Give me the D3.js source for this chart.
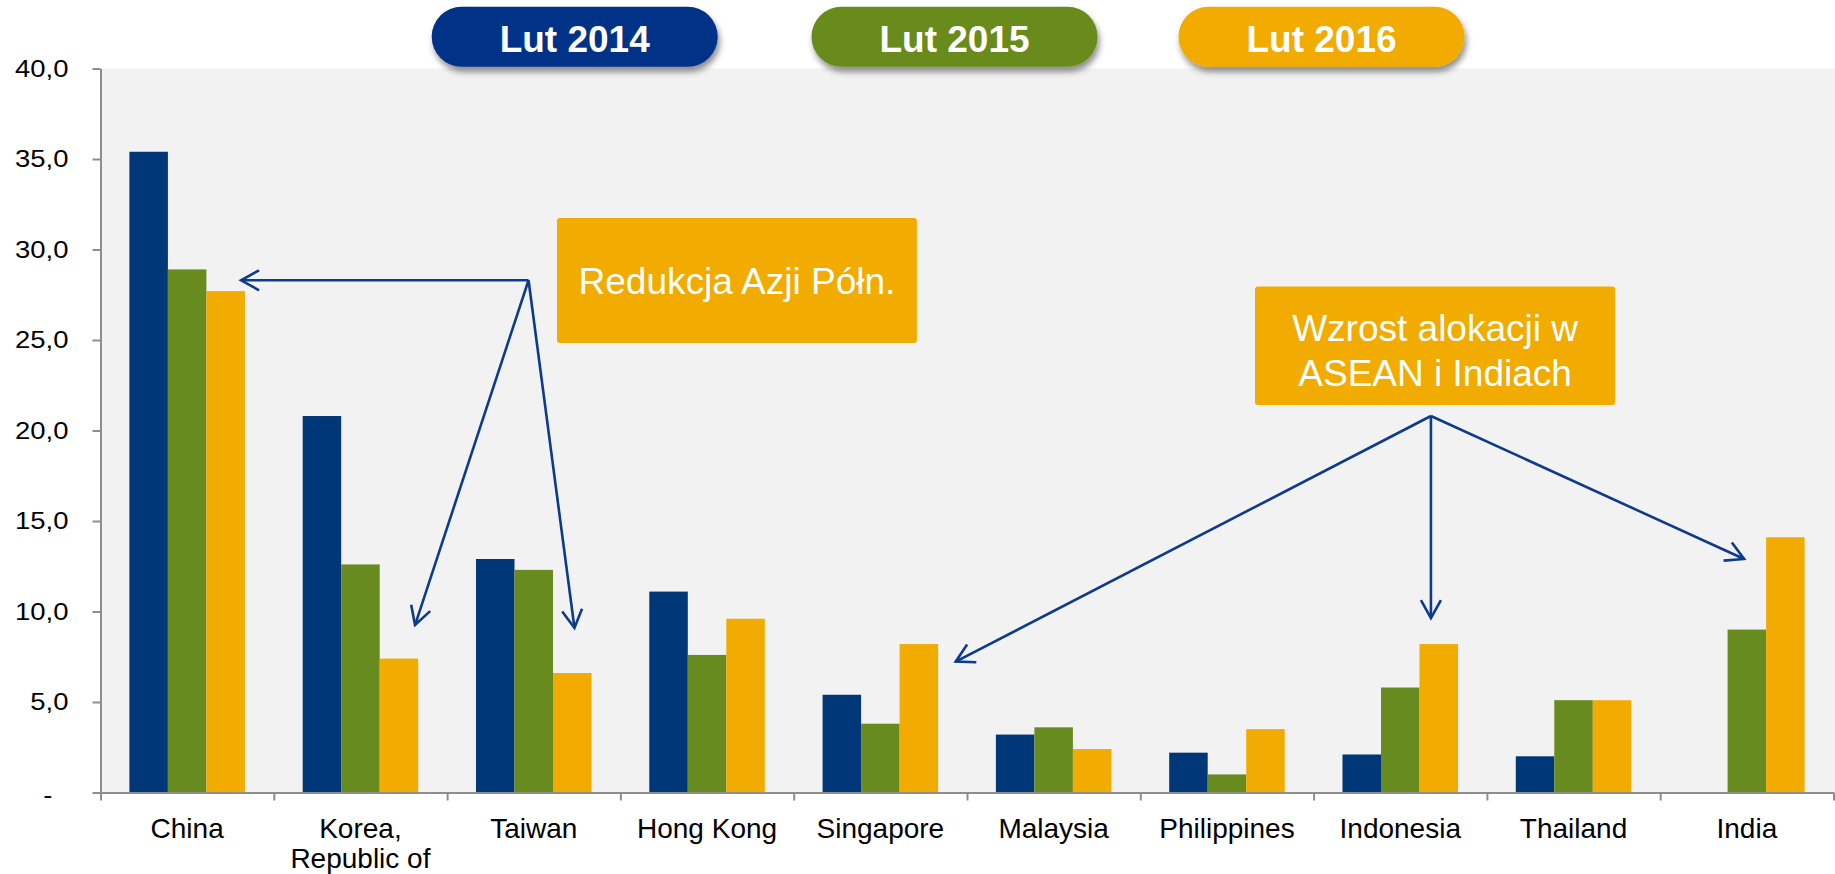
<!DOCTYPE html>
<html>
<head>
<meta charset="utf-8">
<script src="https://cdn.jsdelivr.net/npm/d3@7/dist/d3.min.js"></script>
<style>
  html, body { margin: 0; padding: 0; background: #ffffff; }
  svg { display: block; font-family: "Liberation Sans", Arial, sans-serif; }
</style>
</head>
<body>
<svg id="chart" width="1835" height="874"></svg>
<script>
// ---------- DATA ----------
const categories = ["China", "Korea, Republic of", "Taiwan", "Hong Kong", "Singapore",
                    "Malaysia", "Philippines", "Indonesia", "Thailand", "India"];
const seriesNames = ["Lut 2014", "Lut 2015", "Lut 2016"];
const valuesFeb2014 = [35.4, 20.8, 12.9, 11.1, 5.4, 3.2, 2.2, 2.1, 2.0, null];
const valuesFeb2015 = [28.9, 12.6, 12.3, 7.6, 3.8, 3.6, 1.0, 5.8, 5.1, 9.0];
const valuesFeb2016 = [27.7, 7.4, 6.6, 9.6, 8.2, 2.4, 3.5, 8.2, 5.1, 14.1];
const yTickValues = [0, 5, 10, 15, 20, 25, 30, 35, 40];

// annotations: box texts and arrow anchors in data space [category index position, value]
const noteNorthText = ["Redukcja Azji Półn."];
const noteNorthBox = { x0: 2.634, x1: 4.711, v0: 31.74, v1: 24.83 };
const noteNorthOrigin = [2.47, 28.3];
const noteNorthTargets = [[0.811, 28.3], [1.815, 9.25], [2.735, 9.09]];

const noteAseanText = ["Wzrost alokacji w", "ASEAN i Indiach"];
const noteAseanBox = { x0: 6.662, x1: 8.740, v0: 27.96, v1: 21.41 };
const noteAseanOrigin = [7.677, 20.8];
const noteAseanTargets = [[4.935, 7.23], [7.677, 9.64], [9.484, 12.9]];

// ---------- STYLE / LAYOUT ----------
const W = 1835, H = 874;
const plot = { left: 100.5, right: 1833.5, top: 68.5, bottom: 792.5 };
const seriesColors = ["#003778", "#678b1f", "#f2ab00"];
const pillColors = ["#023087", "#678b1f", "#f2ab00"];
const arrowColor = "#0d3b8a";
const axisColor = "#8e8e8e";

const svg = d3.select("#chart");

// defs
const defs = svg.append("defs");
const shadow = defs.append("filter").attr("id", "pillShadow")
  .attr("x", "-20%").attr("y", "-30%").attr("width", "140%").attr("height", "170%");
shadow.append("feDropShadow").attr("dx", 2).attr("dy", 5).attr("stdDeviation", 3)
  .attr("flood-color", "#000").attr("flood-opacity", 0.45);

defs.append("marker").attr("id", "openArrow")
  .attr("viewBox", "-22 -13 26 26").attr("refX", 0).attr("refY", 0)
  .attr("markerUnits", "userSpaceOnUse").attr("markerWidth", 26).attr("markerHeight", 26)
  .attr("orient", "auto")
  .append("path").attr("d", "M-18,-10 L0,0 L-18,10")
  .attr("fill", "none").attr("stroke", arrowColor).attr("stroke-width", 2.6)
  .attr("stroke-linejoin", "miter");

// scales
const x = d3.scaleBand().domain(categories).range([plot.left, plot.right]).padding(0);
const xIdx = d3.scaleLinear().domain([0, categories.length]).range([plot.left, plot.right]);
const bw = x.bandwidth();
const xs = d3.scaleBand().domain(seriesNames).range([bw * 0.75 / 4.5 * 2, bw - bw * 0.75 / 4.5 * 2]).padding(0);
// group occupies 3 bar widths, gap 1.5 bar widths (Excel gap width 150%)
xs.range([bw * 0.75 / 4.5, bw - bw * 0.75 / 4.5]);
const y = d3.scaleLinear().domain([0, 40]).range([plot.bottom, plot.top]);

// plot background
svg.append("rect")
  .attr("x", plot.left).attr("y", plot.top)
  .attr("width", W - plot.left).attr("height", plot.bottom - plot.top)
  .attr("fill", "#f2f2f2");

// bars
const seriesValues = [valuesFeb2014, valuesFeb2015, valuesFeb2016];
const barData = [];
categories.forEach((c, i) => {
  seriesNames.forEach((s, j) => {
    const v = seriesValues[j][i];
    if (v !== null && v > 0) barData.push({ c, s, v, j });
  });
});
svg.append("g").selectAll("rect").data(barData).join("rect")
  .attr("x", d => x(d.c) + xs(d.s))
  .attr("width", xs.bandwidth())
  .attr("y", d => y(d.v))
  .attr("height", d => y(0) - y(d.v))
  .attr("fill", d => seriesColors[d.j]);

// y axis
const yAxis = d3.axisLeft(y).tickValues(yTickValues)
  .tickFormat(d => d === 0 ? "-" : d.toFixed(1).replace(".", ","))
  .tickSize(8).tickSizeOuter(0).tickPadding(24);
const gy = svg.append("g").attr("transform", `translate(${plot.left},0)`).call(yAxis);
gy.select(".domain").attr("stroke", axisColor).attr("stroke-width", 2);
gy.selectAll(".tick line").attr("stroke", axisColor).attr("stroke-width", 2);
gy.selectAll(".tick text")
  .attr("fill", "#000").attr("font-size", 24.5)
  .attr("font-family", "'Liberation Sans', Arial, sans-serif")
  .each(function(d) {
    const t = d3.select(this);
    const w = this.getComputedTextLength();
    t.attr("textLength", w * 1.12).attr("lengthAdjust", "spacingAndGlyphs");
    if (d === 0) t.attr("dx", -16).attr("dy", "0.42em");
  });

// x axis (ticks at category boundaries)
const xAxis = d3.axisBottom(xIdx).tickValues(d3.range(categories.length + 1))
  .tickFormat("").tickSize(8).tickSizeOuter(0);
const gx = svg.append("g").attr("transform", `translate(0,${plot.bottom})`).call(xAxis);
gx.select(".domain").attr("stroke", axisColor).attr("stroke-width", 2);
gx.selectAll(".tick line").attr("stroke", axisColor).attr("stroke-width", 2);

// category labels
const catLabels = svg.append("g").attr("font-size", 28).attr("fill", "#000").attr("text-anchor", "middle");
categories.forEach(c => {
  const lines = c.includes(",") ? [c.slice(0, c.indexOf(",") + 1), c.slice(c.indexOf(",") + 1).trim()] : [c];
  const t = catLabels.append("text")
    .attr("x", x(c) + bw / 2).attr("y", plot.bottom + 45);
  lines.forEach((ln, k) => {
    t.append("tspan").attr("x", x(c) + bw / 2).attr("dy", k === 0 ? 0 : 30).text(ln);
  });
});

// legend pills
const pillCenters = [574.7, 954.5, 1321.5];
const pillW = 286, pillH = 60, pillTop = 6.7;
const legend = svg.append("g");
seriesNames.forEach((s, j) => {
  legend.append("rect")
    .attr("x", pillCenters[j] - pillW / 2).attr("y", pillTop)
    .attr("width", pillW).attr("height", pillH)
    .attr("rx", 30).attr("ry", 30)
    .attr("fill", pillColors[j])
    .attr("filter", "url(#pillShadow)");
  legend.append("text")
    .attr("x", pillCenters[j]).attr("y", pillTop + 45)
    .attr("text-anchor", "middle").attr("font-size", 37).attr("font-weight", "bold")
    .attr("fill", "#fff").text(s);
});

// annotations
function drawNote(box, lines, origin, targets, baselines) {
  const g = svg.append("g");
  targets.forEach(t => {
    g.append("line")
      .attr("x1", xIdx(origin[0])).attr("y1", y(origin[1]))
      .attr("x2", xIdx(t[0])).attr("y2", y(t[1]))
      .attr("stroke", arrowColor).attr("stroke-width", 2.6)
      .attr("marker-end", "url(#openArrow)");
  });
  const bx0 = xIdx(box.x0), bx1 = xIdx(box.x1), by0 = y(box.v0), by1 = y(box.v1);
  g.append("rect").attr("x", bx0).attr("y", by0)
    .attr("width", bx1 - bx0).attr("height", by1 - by0)
    .attr("rx", 3).attr("fill", "#f2ab00");
  lines.forEach((ln, k) => {
    g.append("text").attr("x", (bx0 + bx1) / 2).attr("y", by0 + baselines[k])
      .attr("text-anchor", "middle").attr("font-size", 37).attr("fill", "#fff").text(ln);
  });
}
drawNote(noteNorthBox, noteNorthText, noteNorthOrigin, noteNorthTargets, [76]);
drawNote(noteAseanBox, noteAseanText, noteAseanOrigin, noteAseanTargets, [54.5, 100]);
</script>
</body>
</html>
